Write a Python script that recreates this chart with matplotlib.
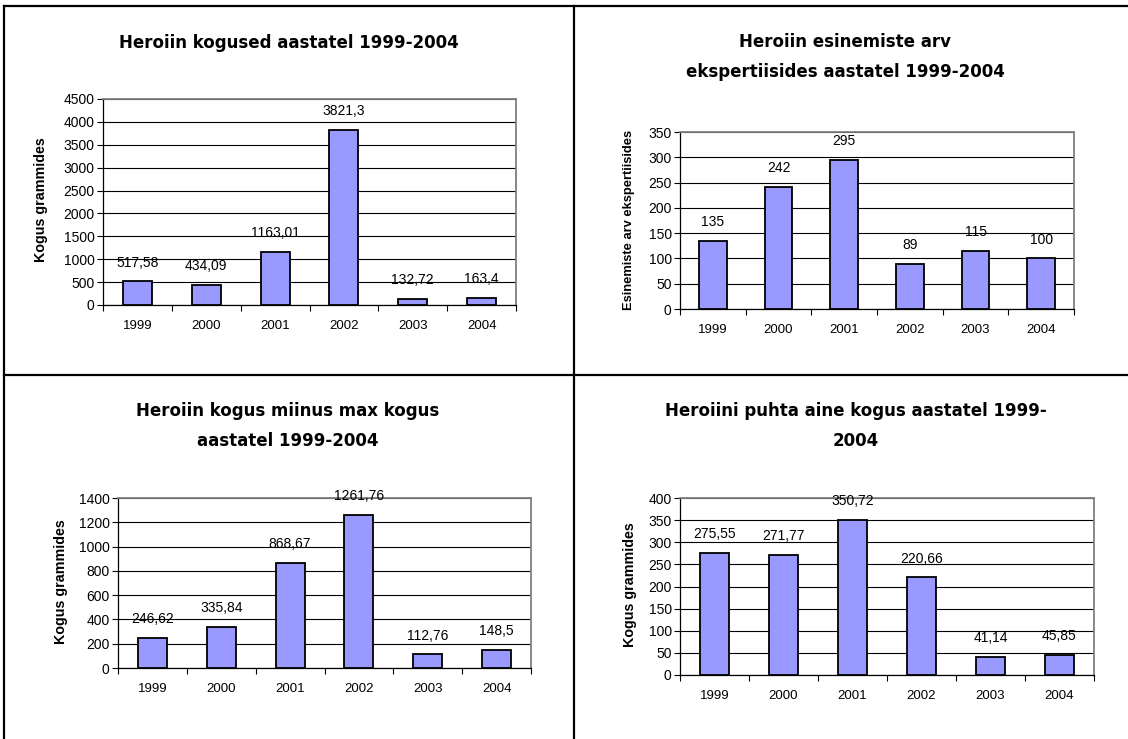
import matplotlib
matplotlib.use("Agg")
import matplotlib.pyplot as plt
from matplotlib.lines import Line2D

plt.rcParams['font.family'] = ['Liberation Sans', 'DejaVu Sans']

years = ["1999", "2000", "2001", "2002", "2003", "2004"]

# heroiini kogused (g)
kogused = [517.58, 434.09, 1163.01, 3821.3, 132.72, 163.4]
# esinemiste arv ekspertiisides
esinemised = [135, 242, 295, 89, 115, 100]
# kogus miinus max kogus (g)
miinus_max = [246.62, 335.84, 868.67, 1261.76, 112.76, 148.5]
# puhta aine kogus (g)
puhas = [275.55, 271.77, 350.72, 220.66, 41.14, 45.85]

W, H = 1128, 739
fig = plt.figure(figsize=(W / 100, H / 100), dpi=100)

BAR = "#9999FF"


def px_axes(x0, x1, ytop, ybot):
    return fig.add_axes([x0 / W, 1 - ybot / H, (x1 - x0) / W, (ybot - ytop) / H])


def bar_panel(box, values, ymax, step, title, tpos, ylab, ypos, ylab_size=10.3):
    ax = px_axes(*box)
    n = len(values)
    xs = list(range(n))
    ax.bar(xs, values, width=0.42, color=BAR, edgecolor="black", linewidth=1.3, zorder=3)
    ax.set_xlim(-0.5, n - 0.5)
    ax.set_ylim(0, ymax)
    ax.set_yticks(range(0, ymax + 1, step))
    ax.tick_params(axis="y", length=4, width=0.8, pad=2, labelsize=10, direction="out")
    ax.set_xticks([i - 0.5 for i in range(n + 1)])
    ax.set_xticklabels([])
    ax.tick_params(axis="x", which="major", length=4, width=0.8, direction="out")
    ax.set_xticks(xs, minor=True)
    ax.set_xticklabels(years, minor=True)
    ax.tick_params(axis="x", which="minor", length=0, pad=11, labelsize=9.5)
    ax.yaxis.grid(True, color="black", linewidth=0.8, zorder=1)
    ax.set_axisbelow(True)
    for s in ("top", "right"):
        ax.spines[s].set_color("#808080")
        ax.spines[s].set_linewidth(1.3)
    for s in ("left", "bottom"):
        ax.spines[s].set_color("black")
        ax.spines[s].set_linewidth(0.9)
    for x, v in zip(xs, values):
        ax.annotate(f"{v:g}".replace(".", ","), (x, v), xytext=(0, 13.5),
                    textcoords="offset points", ha="center", va="center",
                    fontsize=10, zorder=4)
    fig.text(tpos[0] / W, 1 - tpos[1] / H, title, ha="center", va="center",
             fontsize=12, fontweight="bold", linespacing=1.8,
             family=["DejaVu Sans"])
    fig.text(ypos[0] / W, 1 - ypos[1] / H, ylab, ha="center", va="center",
             rotation=90, fontsize=ylab_size, fontweight="bold")
    return ax


bar_panel((103, 516, 99, 305), kogused, 4500, 500,
          "Heroiin kogused aastatel 1999-2004", (289, 43),
          "Kogus grammides", (41, 200))
bar_panel((680, 1074, 132, 309), esinemised, 350, 50,
          "Heroiin esinemiste arv\nekspertiisides aastatel 1999-2004", (845, 57),
          "Esinemiste arv ekspertiisides", (629, 220), ylab_size=9.3)
bar_panel((118, 531, 498, 668), miinus_max, 1400, 200,
          "Heroiin kogus miinus max kogus\naastatel 1999-2004", (288, 426),
          "Kogus grammides", (61, 582))
bar_panel((680, 1094, 498, 675), puhas, 400, 50,
          "Heroiini puhta aine kogus aastatel 1999-\n2004", (856, 426),
          "Kogus grammides", (630, 585))

# tabeli jooned
lw = 1.6
fig.add_artist(Line2D([4 / W, 1], [1 - 6 / H, 1 - 6 / H], color="black", linewidth=lw))
fig.add_artist(Line2D([4 / W, 4 / W], [0, 1 - 6 / H], color="black", linewidth=lw))
fig.add_artist(Line2D([574 / W, 574 / W], [0, 1 - 6 / H], color="black", linewidth=lw))
fig.add_artist(Line2D([4 / W, 1], [1 - 375 / H, 1 - 375 / H], color="black", linewidth=lw))

fig.savefig("out.png", dpi=100)
